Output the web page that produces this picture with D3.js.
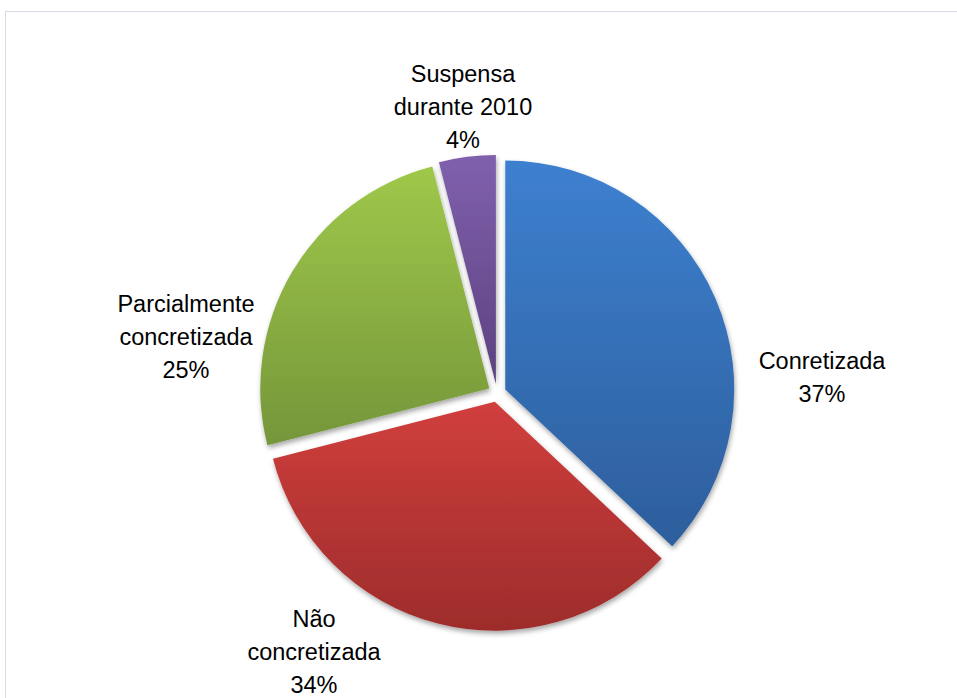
<!DOCTYPE html>
<html>
<head>
<meta charset="utf-8">
<script src="https://cdn.jsdelivr.net/npm/d3@7"></script>
<style>
  html, body { margin: 0; padding: 0; background: #fff; }
  text { font-family: "Liberation Sans", Arial, sans-serif; }
</style>
</head>
<body>
<div id="chart"></div>
<script>
// data
var categories = ["Conretizada", "Não concretizada", "Parcialmente concretizada", "Suspensa durante 2010"];
var values = [37, 34, 25, 4];
var labelLines = [["Conretizada"], ["Não", "concretizada"], ["Parcialmente", "concretizada"], ["Suspensa", "durante 2010"]];
var topColors = ["#3d80d0", "#d13f3d", "#9fc84a", "#8060ad"];
var bottomColors = ["#2d5e9c", "#9d2c2b", "#75963a", "#5c4180"];

var width = 957, height = 698;
var cx = 497, cy = 393, radius = 229, explode = 9;
// label first-baseline offsets from pie centre
var labelOffsets = [[325, -24], [-183, 234], [-311, -81], [-34, -311]];

var svg = d3.select("#chart").append("svg")
    .attr("width", width)
    .attr("height", height);

// chart border (runs off the page on right/bottom like the screenshot)
svg.append("rect")
    .attr("x", 5.5).attr("y", 11.5)
    .attr("width", 1000).attr("height", 800)
    .attr("fill", "#fff")
    .attr("stroke", "#d6dde8")
    .attr("stroke-width", 1);

var defs = svg.append("defs");

var shadow = defs.append("filter").attr("id", "shadow")
    .attr("x", "-20%").attr("y", "-20%").attr("width", "140%").attr("height", "140%");
shadow.append("feDropShadow")
    .attr("dx", 1).attr("dy", 3)
    .attr("stdDeviation", 2.5)
    .attr("flood-color", "#000")
    .attr("flood-opacity", 0.35);

topColors.forEach(function(c, i){
    var g = defs.append("linearGradient").attr("id", "grad" + i)
        .attr("x1", 0).attr("y1", 0).attr("x2", 0).attr("y2", 1);
    g.append("stop").attr("offset", "0%").attr("stop-color", c);
    g.append("stop").attr("offset", "100%").attr("stop-color", bottomColors[i]);
});

var pie = d3.pie().sort(null).value(function(d){ return d; });
var arcs = pie(values);

var arc = d3.arc().innerRadius(0).outerRadius(radius);

var root = svg.append("g").attr("transform", "translate(" + cx + "," + cy + ")");

root.selectAll("path.slice")
    .data(arcs)
    .enter()
    .append("path")
    .attr("class", "slice")
    .attr("d", arc)
    .attr("fill", function(d, i){ return "url(#grad" + i + ")"; })
    .attr("filter", "url(#shadow)")
    .attr("transform", function(d){
        var a = (d.startAngle + d.endAngle) / 2;
        return "translate(" + (Math.sin(a) * explode) + "," + (-Math.cos(a) * explode) + ")";
    });

var labels = root.selectAll("text.lbl")
    .data(arcs)
    .enter()
    .append("text")
    .attr("class", "lbl")
    .attr("text-anchor", "middle")
    .attr("font-size", "23.5px")
    .attr("fill", "#000")
    .attr("x", function(d, i){ return labelOffsets[i][0]; })
    .attr("y", function(d, i){ return labelOffsets[i][1]; });

labels.each(function(d, i){
    var t = d3.select(this);
    var lines = labelLines[i].concat([Math.round(d.data) + "%"]);
    lines.forEach(function(l, j){
        t.append("tspan")
            .attr("x", labelOffsets[i][0])
            .attr("dy", j === 0 ? 0 : 33)
            .text(l);
    });
});
</script>
</body>
</html>
